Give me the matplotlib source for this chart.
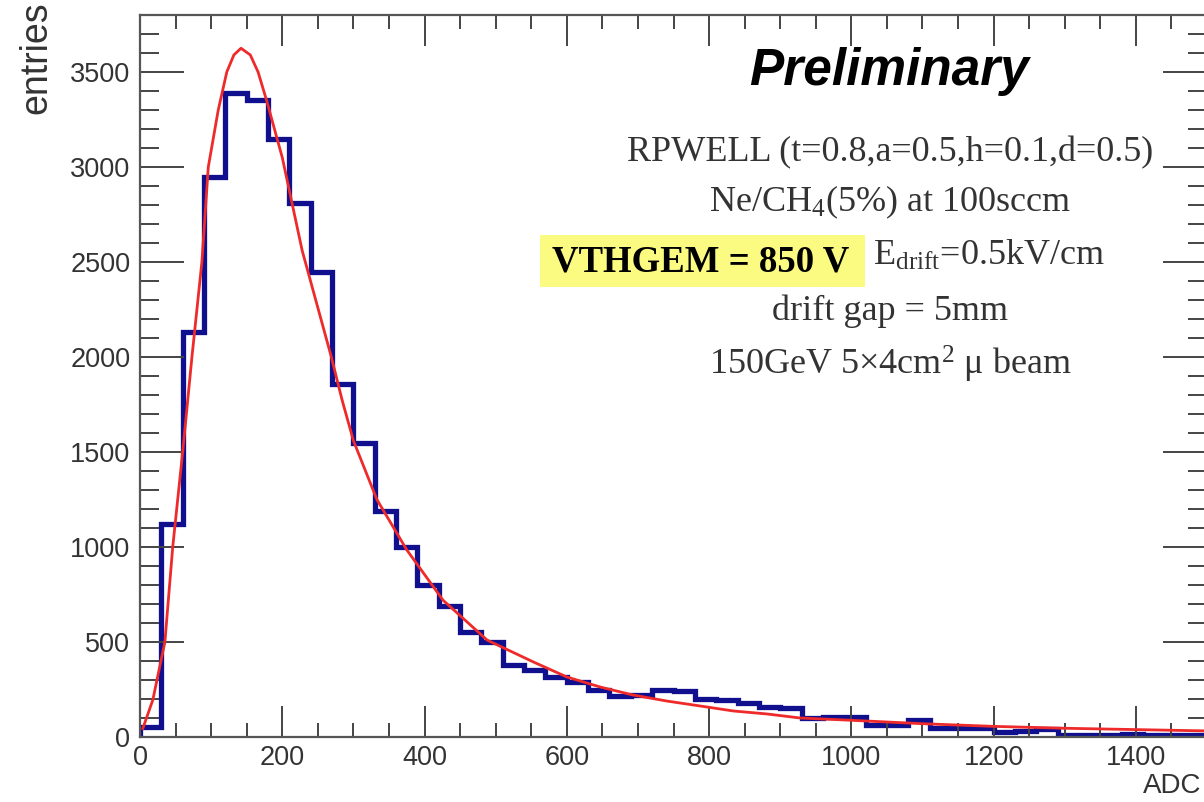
import numpy as np
import matplotlib
matplotlib.use("Agg")
import matplotlib.pyplot as plt
from matplotlib.ticker import MultipleLocator
from matplotlib.patches import Rectangle

# histogram: ADC bins of width 30 from 0 to 1500
bin_edges = np.arange(0, 1501, 30)
counts = [55, 1120, 2130, 2950, 3390, 3355, 3150, 2810, 2450, 1860,
          1550, 1190, 1000, 800, 690, 555, 500, 380, 352, 316,
          290, 247, 218, 222, 250, 242, 198, 195, 178, 160,
          152, 100, 105, 105, 65, 65, 90, 45, 45, 45,
          25, 30, 40, 10, 12, 12, 14, 12, 12, 10]

# fitted curve
fit_x = [4, 18, 35, 46, 60, 73, 87, 96, 110, 122, 132, 142, 155, 166, 178,
         200, 228, 269, 284, 300, 333, 375, 426, 488, 553, 600, 647, 693,
         741, 788, 834, 882, 928, 1000, 1100, 1200, 1300, 1400, 1500]
fit_y = [45, 195, 500, 1000, 1500, 2000, 2500, 3000, 3300, 3500, 3590, 3625,
         3590, 3500, 3350, 3050, 2560, 2000, 1775, 1560, 1250, 985, 720, 510,
         395, 316, 263, 221, 189, 163, 137, 121, 100, 88, 70, 56, 46, 39, 32]

info_lines = ["RPWELL (t=0.8,a=0.5,h=0.1,d=0.5)",
              "Ne/CH$_4$(5%) at 100sccm",
              "drift gap = 5mm",
              "150GeV 5\u00d74cm$^2$ \u03bc beam"]

plt.rcParams['font.family'] = ['Liberation Sans', 'DejaVu Sans']
plt.rcParams['mathtext.fontset'] = 'custom'
plt.rcParams['mathtext.rm'] = 'Liberation Serif'
plt.rcParams['mathtext.it'] = 'Liberation Serif:italic'

W, H = 1204, 802
fig = plt.figure(figsize=(W / 100, H / 100), dpi=100)
ax = fig.add_axes([140 / W, 1 - 737 / H, 1067 / W, 722 / H])

ax.stairs(counts, bin_edges, baseline=0, color='#10108f', lw=3.8)
ax.plot(fit_x, fit_y, color='#ee2a2a', lw=2.0)

ax.set_xlim(0, 1500)
ax.set_ylim(0, 3800)
ax.xaxis.set_major_locator(MultipleLocator(200))
ax.xaxis.set_minor_locator(MultipleLocator(50))
ax.yaxis.set_major_locator(MultipleLocator(500))
ax.yaxis.set_minor_locator(MultipleLocator(100))
ax.tick_params(which='both', direction='in', top=True, right=True,
               colors='#444444', labelcolor='#333333', labelsize=19.5)
ax.tick_params(axis='y', which='major', length=32, width=1.4, pad=7)
ax.tick_params(axis='y', which='minor', length=14, width=1.4)
ax.tick_params(axis='x', which='major', length=22, width=1.4, pad=6)
ax.tick_params(axis='x', which='minor', length=10, width=1.4)
for s in ax.spines.values():
    s.set_color('#555555')
    s.set_linewidth(1.6)

fig.text(0.030, 0.998, "entries", rotation=90, ha='center', va='top',
         fontsize=27, color='#333333')
fig.text(0.998, 0.004, "ADC", ha='right', va='bottom', fontsize=20,
         color='#333333')

fig.text(889 / W, 1 - 72 / H, "Preliminary", ha='center', va='center',
         fontsize=37, fontweight='bold', fontstyle='italic', color='black')

serif = ['Liberation Serif', 'DejaVu Serif']
ys = [153, 202, 311, 364]
for t, y in zip(info_lines, ys):
    fig.text(890 / W, 1 - y / H, t, ha='center', va='center',
             fontsize=26, family=serif, color='#333333')
fig.text(855 / W, 1 - 255 / H, ", E$_{\\mathrm{drift}}$=0.5kV/cm",
         ha='left', va='center', fontsize=26, family=serif, color='#333333',
         zorder=1)

fig.patches.append(Rectangle((540 / W, 1 - 287 / H), 325 / W, 52 / H,
                             transform=fig.transFigure, fc='#fbfb82',
                             ec='none', zorder=2))
fig.text(701 / W, 1 - 262 / H, "VTHGEM = 850 V", ha='center',
         va='center', fontsize=26.5, fontweight='bold', family=serif,
         color='black', zorder=3)

fig.savefig("out.png", dpi=100)
